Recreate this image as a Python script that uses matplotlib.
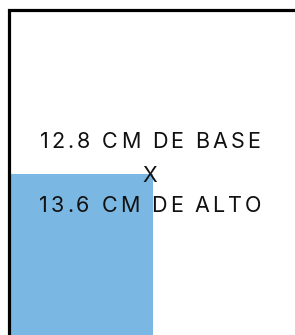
import matplotlib
matplotlib.use("Agg")
from matplotlib import pyplot as plt
from matplotlib.patches import Rectangle
from matplotlib.font_manager import FontProperties

# panel / block values (pixel units of the picture)
frame_x = [8.5, 8.5, 295]
frame_y = [335, 10, 10]
block_x = 10
block_y = 174
block_w = 143
block_h = 161
label_lines = ["12.8 CM DE BASE", "X", "13.6 CM DE ALTO"]
label_base = [148, 182, 212]
line_width_px = 220  # width of the long label lines

fig = plt.figure(figsize=(2.95, 3.35), dpi=100)
ax = fig.add_axes([0, 0, 1, 1])
ax.set_xlim(0, 295)
ax.set_ylim(335, 0)
ax.axis("off")

ax.add_patch(Rectangle((block_x, block_y), block_w, block_h,
                       facecolor="#7ab7e2", edgecolor="none", zorder=1))
ax.plot(frame_x, frame_y, color="black", lw=2.3, zorder=2,
        solid_joinstyle="miter")

prop = FontProperties(family="Inter", size=15.5)
rend = fig.canvas.get_renderer()


def char_w(c):
    if c == " ":
        return rend.get_text_width_height_descent("a a", prop, ismath=False)[0] - \
            2 * rend.get_text_width_height_descent("a", prop, ismath=False)[0]
    return rend.get_text_width_height_descent(c, prop, ismath=False)[0]


# letter spacing from the first line
w0 = sum(char_w(c) for c in label_lines[0])
tracking = max(0, (line_width_px - w0) / (len(label_lines[0]) - 1))

for txt, y in zip(label_lines, label_base):
    widths = [char_w(c) for c in txt]
    total = sum(widths) + tracking * (len(txt) - 1)
    x = 150 - total / 2
    for c, w in zip(txt, widths):
        ax.text(x, y, c, ha="left", va="baseline", fontproperties=prop,
                color="#111111", zorder=3)
        x += w + tracking

fig.savefig("out.png", dpi=100)
